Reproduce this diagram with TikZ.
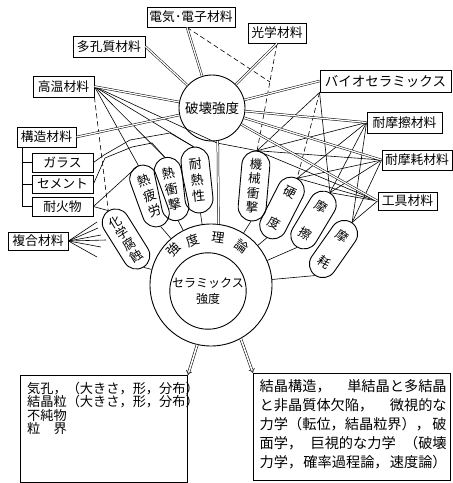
\documentclass[tikz,border=0pt]{standalone}
\usepackage{fontspec}
\setmainfont{Noto Sans CJK JP}
\usetikzlibrary{arrows.meta,calc}
\begin{document}
\begin{tikzpicture}[x=1pt,y=-1pt,
  mbox/.style={draw, line width=0.9pt, minimum height=20pt, inner sep=1pt, font=\fontsize{12.8}{13}\selectfont},
  capsule/.style={draw, line width=0.9pt, rounded corners=13.5pt, minimum width=27pt, inner sep=0pt, align=center, font=\fontsize{12.5}{15}\selectfont},
  dbl/.style={double, double distance=1.3pt, line width=0.5pt},
  thinl/.style={line width=0.6pt},
  dsh/.style={line width=0.6pt, dash pattern=on 5pt off 3pt},
  darrow/.style={double, double distance=1.6pt, line width=0.55pt, -{Implies}},
  ring/.style={circle, draw, line width=0.9pt, inner sep=0pt},
  arcch/.style={font=\fontsize{13}{13}\selectfont, inner sep=0pt},
]
\useasboundingbox (0,0) rectangle (453,483);

% material boxes
\node[mbox, minimum width=88pt] (denki) at (191,17) {電気･電子材料};
\node[mbox, minimum width=72pt, minimum height=21pt] (takou) at (109,46.5) {多孔質材料};
\node[mbox, minimum width=58pt] (kougaku) at (277,33) {光学材料};
\node[mbox, minimum width=61pt, minimum height=21pt] (koon) at (63.5,86.5) {高温材料};
\node[mbox, minimum width=131pt, minimum height=22pt, font=\fontsize{13.5}{14}\selectfont] (bio) at (385.5,81) {バイオセラミックス};
\node[mbox, minimum width=59pt] (kouzou) at (46.5,137) {構造材料};
\node[mbox, minimum width=61pt, minimum height=19pt] (glass) at (62.5,162.5) {ガラス};
\node[mbox, minimum width=61pt, minimum height=18pt] (cement) at (62.5,184) {セメント};
\node[mbox, minimum width=61pt, minimum height=19pt] (taika) at (62.5,206.5) {耐火物};
\node[mbox, minimum width=60pt, minimum height=18pt] (fukugo) at (38,241) {複合材料};
\node[mbox, minimum width=75pt, minimum height=21pt] (taimasatsu) at (404.5,122.5) {耐摩擦材料};
\node[mbox, minimum width=70pt] (taimamou) at (417,160) {耐摩耗材料};
\node[mbox, minimum width=59pt, minimum height=18pt] (kougu) at (407.5,201) {工具材料};

% circles
\node[ring, minimum size=66pt, font=\fontsize{13.5}{14}\selectfont] (hakai) at (212,108) {破壊強度};
\node[ring, minimum size=122pt] (outer) at (211,285) {};
\node[ring, minimum size=70pt, align=center, font=\fontsize{12}{16}\selectfont] (inner) at (208,291) {セラミックス\\強度};

% arc text
\node[arcch, rotate=46] (t1) at (173,249) {強};
\node[arcch, rotate=21] (t2) at (193,241) {度};
\node[arcch, rotate=-8] (t3) at (218,238) {理};
\node[arcch, rotate=-36] (t4) at (242,246) {論};

% capsules
\node[capsule, rotate=32, minimum height=66pt, font=\fontsize{12.5}{13.5}\selectfont] (kagaku) at (126,239) {化\\学\\腐\\蝕};
\node[capsule, rotate=20, minimum height=64pt, font=\fontsize{13}{16}\selectfont] (hirou) at (149.5,196) {熱\\疲\\労};
\node[capsule, rotate=12, minimum height=64pt, font=\fontsize{13}{16}\selectfont] (shougeki) at (171.5,189) {熱\\衝\\撃};
\node[capsule, rotate=6, minimum height=66pt, minimum width=28pt, rounded corners=14pt, font=\fontsize{13}{16}\selectfont] (tainetsu) at (197,180) {耐\\熱\\性};
\node[capsule, rotate=-5, minimum height=70pt, minimum width=28pt, rounded corners=14pt, font=\fontsize{12.5}{14.5}\selectfont] (kikai) at (254,186) {機\\械\\衝\\撃};
\node[capsule, rotate=-27, minimum height=66pt] (koudo) at (282,208) {硬\\[20pt]度};
\node[capsule, rotate=-31, minimum height=63pt] (masatsu) at (313.5,220) {摩\\[16pt]擦};
\node[capsule, rotate=-35, minimum height=64pt] (mamou) at (333.5,249) {摩\\[16pt]耗};

% stems
\foreach \c in {kagaku,hirou,shougeki,tainetsu,kikai,koudo,masatsu,mamou}
  \draw[thinl] (\c.south) -- (outer);

% bottom boxes
\node[draw, line width=0.9pt, minimum width=167pt, minimum height=107pt, anchor=north west, inner sep=0pt] (lbox) at (20,375) {};
\node[anchor=north west, align=left, inner sep=0pt, font=\fontsize{13.2}{13.4}\selectfont] (ltext) at (27,382)
  {気孔，（大きさ，形，分布）\\結晶粒（大きさ，形，分布）\\不純物\\粒　界};
\node[draw, line width=0.9pt, minimum width=197pt, minimum height=107pt, anchor=north west, inner sep=0pt] (rbox) at (253,373) {};
\node[anchor=north west, align=left, inner sep=0pt, text width=187pt, font=\fontsize{14.2}{19}\selectfont] (rtext) at (259.5,379)
  {\makebox[187pt][s]{結晶構造，\hfil 単結晶と多結晶}\\
   \makebox[187pt][s]{と非晶質体欠陥，\hfil 微視的な}\\
   \makebox[187pt][s]{力学（転位，結晶粒界），\hfil 破}\\
   \makebox[187pt][s]{面学，\hfil 巨視的な力学\hfil（破壊}\\
   \makebox[187pt][s]{力学，\hfil 確率過程論，\hfil 速度論）}};

\draw[darrow] (outer.257) -- (lbox.north east);
\draw[darrow] (outer.299) -- (rbox.north west);

% bracket of 構造材料
\coordinate (b0) at ($(kouzou.south west)+(6,0)$);
\draw[line width=0.9pt] (b0) |- (taika.west);
\draw[line width=0.9pt] (b0 |- glass.west) -- (glass.west);
\draw[line width=0.9pt] (b0 |- cement.west) -- (cement.west);

% fan of 複合材料
\coordinate (f1) at (97,222);
\coordinate (f2) at (98,228);
\coordinate (f3) at (101,235);
\coordinate (f4) at (106,240);
\coordinate (f5) at (101,247);
\coordinate (f6) at (97,257);
\foreach \f in {f1,f2,f3,f4,f5,f6} \draw[thinl] (fukugo.east) -- (\f);

% junctions
\coordinate (hb) at (217,143);
\coordinate (j1) at (270,82);
\coordinate (g1) at (104,155);
\coordinate (g2) at (130,140);
\coordinate (g3) at (170,133);
\coordinate (c1) at (105,158);
\coordinate (c2) at (132,147);
\coordinate (c3) at (152,143);

% thin lines from 高温材料
\draw[thinl] (koon.east) -- (hirou.north);
\draw[thinl] (koon.east) -- (shougeki.north);
\draw[thinl] (koon.east) -- (tainetsu.north);
\draw[thinl] (koon.east) -- (hb) -- (kikai.north);
\draw[dsh] (koon.south east) -- (kagaku.north);

% lines from ガラス, セメント, 耐火物
\draw[thinl] (glass.east) -- (g1) -- (g2) -- (g3) -- (tainetsu.north);
\draw[thinl] (cement.east) -- (c1) -- (c2) -- (c3) -- (shougeki.north);
\draw[thinl] (taika.east) -- (hirou.north);
\draw[thinl] (taika.east) -- (kagaku.north);

% dashed from 電気・電子材料 and 光学材料
\draw[dsh] ($(denki.south)+(-4,0)$) -- (j1);
\draw[dsh] (kougaku.south) -- (kikai.north);

% right side
\draw[thinl] (bio.south west) -- (kikai.north);
\draw[dsh] (bio.south west) -- (koudo.north);
\draw[thinl] (bio.south west) -- (masatsu.north);
\foreach \s in {taimasatsu,taimamou,kougu}
  \foreach \t in {kikai,koudo,masatsu,mamou}
    \draw[thinl] (\s.west) -- (\t.north);

% double lines to 破壊強度
\draw[dbl] ($(denki.south)+(-4,0)$) -- (hakai);
\draw[dbl] (takou.east) -- (hakai);
\draw[dbl] (kougaku.south) -- (hakai);
\draw[dbl] (koon.east) -- (hakai);
\draw[dbl] (kouzou.east) -- (hakai);
\draw[dbl] (bio.west) -- (hakai);
\draw[dbl] (hakai) -- (taimasatsu.west);
\draw[dbl] (hakai) -- (taimamou.west);
\draw[dbl] (hakai) -- (kougu.west);
\draw[dbl] (hakai.-80) -- (outer.83);
\end{tikzpicture}
\end{document}
